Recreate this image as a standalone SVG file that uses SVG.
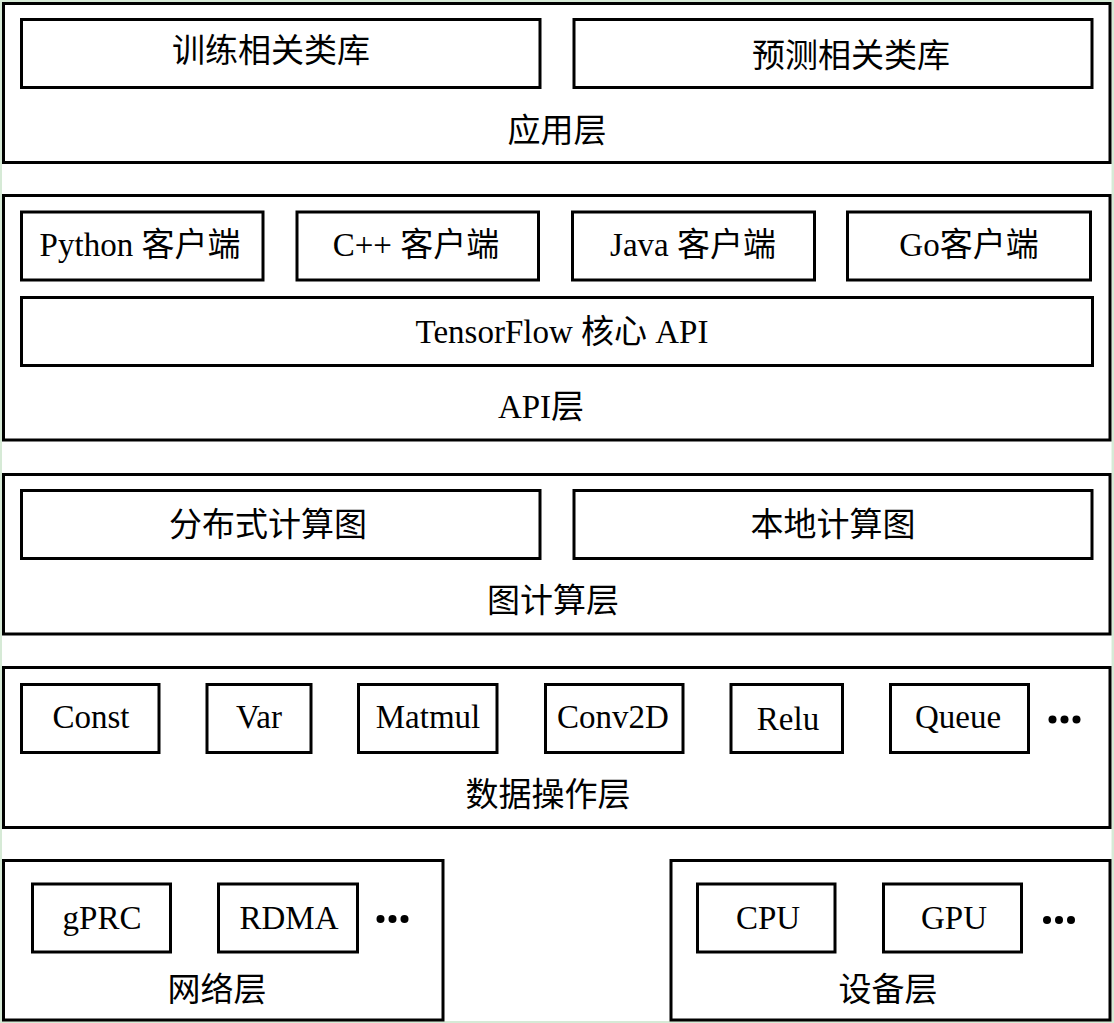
<svg xmlns="http://www.w3.org/2000/svg" width="1114" height="1023" viewBox="0 0 1114 1023">
<style>
.layer{fill:#fff;stroke:#000;stroke-width:3}
.box{fill:#fff;stroke:#000;stroke-width:3}
text{font-family:"Liberation Serif","Noto Sans CJK SC",serif;font-size:33px;fill:#000;text-anchor:middle}
.dot{fill:#000}
</style>
<rect x="0" y="0" width="1114" height="1023" fill="#d6ead6"/>
<rect x="2" y="2" width="1109.5" height="1019" fill="#fff"/>
<g id="layer-app">
<rect class="layer" x="3.5" y="3.5" width="1106.5" height="159"/>
<text x="557" y="142">应用层</text>
</g>
<g id="node-train"><rect class="box" x="21.5" y="19.5" width="518.5" height="68"/><text x="271" y="62">训练相关类库</text></g>
<g id="node-predict"><rect class="box" x="574" y="19.5" width="518" height="68"/><text x="851" y="67">预测相关类库</text></g>
<g id="layer-api">
<rect class="layer" x="3.5" y="195.5" width="1106.5" height="244.5"/>
<text x="541" y="418">API层</text>
</g>
<g id="node-python"><rect class="box" x="21.5" y="212" width="241.5" height="68"/><text x="140" y="256">Python 客户端</text></g>
<g id="node-cpp"><rect class="box" x="297" y="212" width="241.5" height="68"/><text x="416" y="256">C++ 客户端</text></g>
<g id="node-java"><rect class="box" x="572.5" y="212" width="242" height="68"/><text x="693" y="256">Java 客户端</text></g>
<g id="node-go"><rect class="box" x="847.5" y="212" width="243" height="68"/><text x="969" y="256">Go客户端</text></g>
<g id="node-core"><rect class="box" x="21.5" y="297.5" width="1071" height="68"/><text x="562" y="343">TensorFlow 核心 API</text></g>
<g id="layer-graph">
<rect class="layer" x="3.5" y="474.5" width="1106.5" height="159.5"/>
<text x="553" y="612">图计算层</text>
</g>
<g id="node-dist"><rect class="box" x="21.5" y="490.5" width="518.5" height="68"/><text x="268" y="536">分布式计算图</text></g>
<g id="node-local"><rect class="box" x="574" y="490.5" width="518" height="68"/><text x="833" y="536">本地计算图</text></g>
<g id="layer-data">
<rect class="layer" x="3.5" y="667.5" width="1106.5" height="160"/>
<text x="548" y="806">数据操作层</text>
<circle class="dot" cx="1052.5" cy="719.5" r="4"/><circle class="dot" cx="1064.5" cy="719.5" r="4"/><circle class="dot" cx="1076.5" cy="719.5" r="4"/>
</g>
<g id="node-const"><rect class="box" x="21.5" y="684.5" width="137.5" height="68"/><text x="91" y="728">Const</text></g>
<g id="node-var"><rect class="box" x="207" y="684.5" width="104" height="68"/><text x="259" y="728">Var</text></g>
<g id="node-matmul"><rect class="box" x="358.5" y="684.5" width="138.5" height="68"/><text x="428" y="728">Matmul</text></g>
<g id="node-conv2d"><rect class="box" x="545.5" y="684.5" width="137.5" height="68"/><text x="613" y="728">Conv2D</text></g>
<g id="node-relu"><rect class="box" x="731" y="684.5" width="111.5" height="68"/><text x="788" y="730">Relu</text></g>
<g id="node-queue"><rect class="box" x="890.5" y="684.5" width="138" height="68"/><text x="958" y="728">Queue</text></g>
<g id="layer-net">
<rect class="layer" x="3.5" y="860.5" width="439.5" height="159.5"/>
<text x="217" y="1001">网络层</text>
<circle class="dot" cx="380.5" cy="919" r="4"/><circle class="dot" cx="392.5" cy="919" r="4"/><circle class="dot" cx="404.5" cy="919" r="4"/>
</g>
<g id="node-grpc"><rect class="box" x="32.5" y="884" width="138" height="68"/><text x="102" y="929">gPRC</text></g>
<g id="node-rdma"><rect class="box" x="218.5" y="884" width="139" height="68"/><text x="289" y="929">RDMA</text></g>
<g id="layer-device">
<rect class="layer" x="671" y="860.5" width="439" height="159.5"/>
<text x="888" y="1001">设备层</text>
<circle class="dot" cx="1047" cy="920" r="4"/><circle class="dot" cx="1059" cy="920" r="4"/><circle class="dot" cx="1071" cy="920" r="4"/>
</g>
<g id="node-cpu"><rect class="box" x="697.5" y="884" width="137.5" height="68"/><text x="768" y="929">CPU</text></g>
<g id="node-gpu"><rect class="box" x="883.5" y="884" width="138" height="68"/><text x="954" y="929">GPU</text></g>
<g id="connectors"></g>
</svg>
